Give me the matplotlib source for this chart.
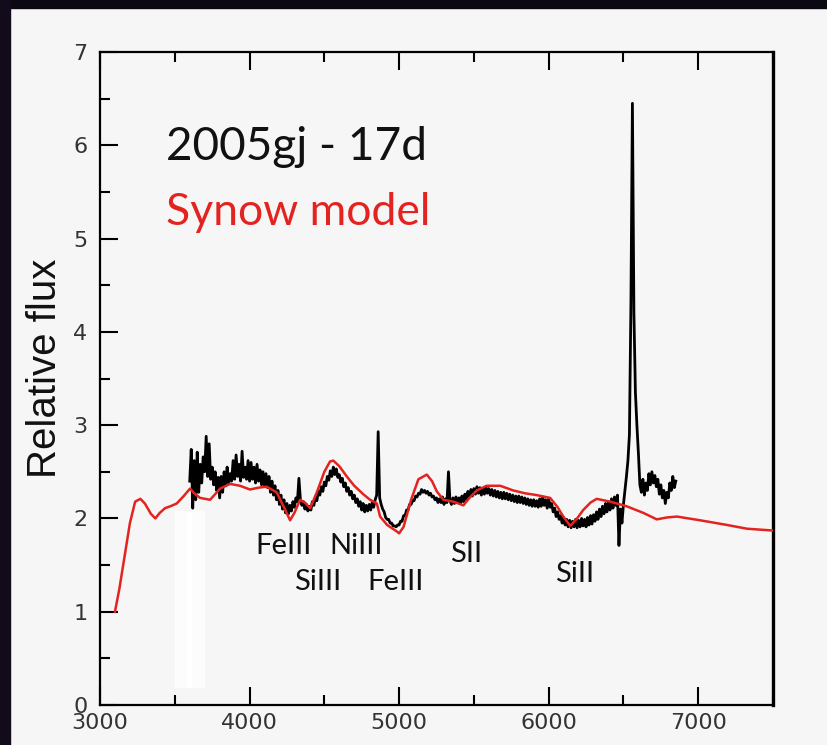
import numpy as np
import matplotlib
matplotlib.use('Agg')
from matplotlib import pyplot as plt
from matplotlib.patches import Rectangle
from matplotlib.ticker import MultipleLocator

# observed spectrum, 10 A steps from 3600 to 6850
spec_wave = np.arange(3600, 6851, 10)
spec_flux = [
    2.40, 2.74, 2.11, 2.62, 2.20, 2.71, 2.28, 2.58, 2.38, 2.66,
    2.50, 2.88, 2.45, 2.80, 2.42, 2.55, 2.36, 2.50, 2.30, 2.44,
    2.22, 2.45, 2.28, 2.50, 2.35, 2.55, 2.38, 2.48, 2.40, 2.62,
    2.42, 2.68, 2.45, 2.58, 2.40, 2.72, 2.44, 2.55, 2.42, 2.62,
    2.40, 2.60, 2.42, 2.55, 2.38, 2.58, 2.40, 2.52, 2.36, 2.50,
    2.35, 2.48, 2.33, 2.45, 2.28, 2.40, 2.25, 2.35, 2.20, 2.30,
    2.15, 2.25, 2.10, 2.20, 2.06, 2.16, 2.05, 2.14, 2.08, 2.18,
    2.12, 2.22, 2.18, 2.43, 2.20, 2.14, 2.18, 2.10, 2.15, 2.08,
    2.13, 2.09, 2.18, 2.14, 2.23, 2.19, 2.29, 2.25, 2.34, 2.29,
    2.39, 2.35, 2.45, 2.41, 2.51, 2.45, 2.55, 2.47, 2.53, 2.44,
    2.47, 2.39, 2.43, 2.34, 2.38, 2.29, 2.33, 2.25, 2.29, 2.21,
    2.25, 2.17, 2.21, 2.13, 2.18, 2.09, 2.16, 2.07, 2.14, 2.08,
    2.15, 2.09, 2.17, 2.12, 2.20, 2.25, 2.93, 2.22, 2.15, 2.10,
    2.07, 2.01, 1.99, 1.99, 1.95, 1.95, 1.92, 1.92, 1.91, 1.93,
    1.93, 1.97, 1.97, 2.03, 2.03, 2.09, 2.09, 2.15, 2.15, 2.19,
    2.19, 2.24, 2.23, 2.27, 2.26, 2.31, 2.28, 2.30, 2.27, 2.29,
    2.25, 2.27, 2.23, 2.24, 2.20, 2.22, 2.17, 2.21, 2.17, 2.23,
    2.15, 2.21, 2.17, 2.50, 2.19, 2.15, 2.22, 2.16, 2.23, 2.17,
    2.22, 2.16, 2.24, 2.18, 2.26, 2.20, 2.29, 2.23, 2.31, 2.24,
    2.32, 2.26, 2.34, 2.27, 2.33, 2.25, 2.32, 2.26, 2.34, 2.27,
    2.32, 2.25, 2.31, 2.24, 2.30, 2.23, 2.29, 2.22, 2.28, 2.21,
    2.28, 2.21, 2.27, 2.20, 2.26, 2.19, 2.25, 2.18, 2.24, 2.17,
    2.24, 2.17, 2.23, 2.16, 2.22, 2.15, 2.21, 2.14, 2.20, 2.13,
    2.20, 2.13, 2.19, 2.12, 2.21, 2.13, 2.23, 2.14, 2.20, 2.11,
    2.21, 2.12, 2.16, 2.07, 2.11, 2.02, 2.07, 1.99, 2.03, 1.95,
    2.01, 1.93, 1.99, 1.91, 1.98, 1.90, 1.97, 1.91, 1.99, 1.90,
    1.98, 1.91, 2.00, 1.92, 1.99, 1.91, 2.01, 1.93, 2.03, 1.94,
    2.04, 1.97, 2.07, 1.99, 2.10, 2.02, 2.13, 2.05, 2.16, 2.07,
    2.17, 2.09, 2.21, 2.11, 2.23, 2.14, 2.25, 1.71, 2.10, 1.95,
    2.15, 2.30, 2.45, 2.62, 2.90, 4.30, 6.45, 4.20, 3.35, 3.00,
    2.70, 2.36, 2.28, 2.42, 2.25, 2.38, 2.30, 2.48, 2.36, 2.50,
    2.38, 2.46, 2.34, 2.42, 2.26, 2.36, 2.22, 2.30, 2.16, 2.28,
    2.22, 2.38, 2.30, 2.45, 2.33, 2.40,
]

# synow model
model_wave = [3100, 3130, 3170, 3200, 3235, 3270, 3300, 3340, 3370, 3400,
              3435, 3470, 3513, 3560, 3602, 3630, 3669, 3736, 3770, 3803,
              3870, 3936, 4003, 4060, 4115, 4181, 4230, 4271, 4300, 4338,
              4370, 4405, 4450, 4500, 4538, 4560, 4600, 4650, 4700, 4760,
              4806, 4851, 4873, 4920, 4985, 5000, 5030, 5080, 5129, 5185,
              5220, 5252, 5296, 5363, 5430, 5470, 5519, 5586, 5676, 5763,
              5840, 5920, 6010, 6060, 6098, 6144, 6190, 6231, 6280, 6321,
              6411, 6522, 6632, 6723, 6790, 6857, 7013, 7192, 7325, 7500]
model_flux = [1.00, 1.25, 1.65, 1.95, 2.18, 2.21, 2.16, 2.05, 2.00, 2.06,
              2.11, 2.13, 2.16, 2.24, 2.32, 2.27, 2.22, 2.20, 2.26, 2.32,
              2.37, 2.35, 2.31, 2.33, 2.34, 2.28, 2.12, 1.98, 2.06, 2.20,
              2.17, 2.11, 2.28, 2.50, 2.61, 2.62, 2.56, 2.45, 2.35, 2.26,
              2.20, 2.16, 2.02, 1.93, 1.86, 1.84, 1.91, 2.20, 2.42, 2.47,
              2.40, 2.29, 2.20, 2.18, 2.14, 2.22, 2.30, 2.35, 2.35, 2.30,
              2.27, 2.25, 2.22, 2.12, 2.02, 1.92, 2.00, 2.09, 2.17, 2.21,
              2.18, 2.13, 2.06, 1.99, 2.01, 2.02, 1.98, 1.93, 1.89, 1.87]

line_labels = ['FeIII', 'NiIII', 'SiIII', 'FeIII', 'SII', 'SiII']
label_x = [4227, 4712, 4458, 4973, 5448, 6171]
label_y = [1.70, 1.70, 1.32, 1.32, 1.62, 1.40]

bg = '#f6f6f6'
fig = plt.figure(figsize=(8.27, 7.45), dpi=100, facecolor=bg)
ax = fig.add_axes([100 / 827, 1 - 705 / 745, 673 / 827, 653 / 745])
ax.set_facecolor(bg)

# dark frame at top and left of the slide
fig.patches.append(Rectangle((0, 1 - 8 / 745), 1, 8 / 745, transform=fig.transFigure,
                             color='#0b0812', zorder=0))
fig.patches.append(Rectangle((0, 0), 10 / 827, 1, transform=fig.transFigure,
                             color='#120b1c', zorder=0))

# faint white strip in the scan
ax.add_patch(Rectangle((3500, 0.18), 200, 1.9, facecolor='#fcfcfc', edgecolor='none', zorder=1))
ax.add_patch(Rectangle((3585, 0.18), 30, 1.9, facecolor='white', edgecolor='none', zorder=1))

ax.plot(spec_wave, spec_flux, color='black', lw=2.0, zorder=3)
ax.plot(model_wave, model_flux, color='#e3231f', lw=1.8, zorder=4)

ax.set_xlim(3000, 7500)
ax.set_ylim(0, 7)
ax.xaxis.set_major_locator(MultipleLocator(1000))
ax.xaxis.set_minor_locator(MultipleLocator(500))
ax.yaxis.set_major_locator(MultipleLocator(1))
ax.yaxis.set_minor_locator(MultipleLocator(0.5))
ax.tick_params(which='both', direction='in', top=True, right=False, width=1.5,
               labelsize=16, labelcolor='#333333')
ax.tick_params(axis='x', which='major', length=13, pad=6)
ax.tick_params(axis='y', which='major', length=13, pad=9)
ax.tick_params(which='minor', length=7)
for s in ax.spines.values():
    s.set_linewidth(1.6)
ax.spines['right'].set_linewidth(2.4)

fig.text(45 / 827, 1 - 368 / 745, 'Relative flux', rotation=90, ha='center', va='center',
         fontsize=29, family='Liberation Sans', color='#111111')

ax.text(0.098, 0.835, '2005gj - 17d', transform=ax.transAxes, fontsize=33,
        family='Lato', color='#111111', va='baseline')
ax.text(0.098, 0.735, 'Synow model', transform=ax.transAxes, fontsize=32,
        family='Lato', color='#e3231f', va='baseline')

for t, x, y in zip(line_labels, label_x, label_y):
    ax.text(x, y, t, ha='center', va='center', fontsize=21, family='Lato', color='#111111')

plt.savefig('out.png', dpi=100, facecolor=bg)
plt.close()
